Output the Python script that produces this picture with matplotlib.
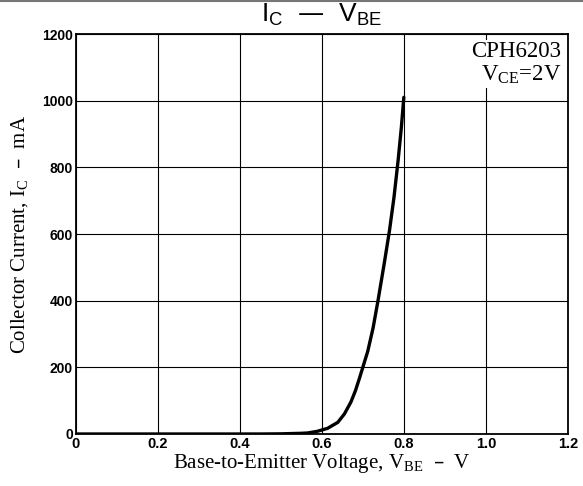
import matplotlib
matplotlib.use("Agg")
import matplotlib.pyplot as plt

# Data
vbe = [0.0, 0.45, 0.50, 0.548, 0.565, 0.589, 0.614, 0.639, 0.655, 0.671,
       0.682, 0.692, 0.700, 0.712, 0.725, 0.737, 0.752, 0.765, 0.776,
       0.786, 0.794, 0.800]
ic = [0, 0, 0.5, 2, 3, 8, 17, 35, 60, 96,
      130, 168, 200, 248, 318, 400, 510, 610, 710,
      820, 920, 1010]

x_ticks = [0, 0.2, 0.4, 0.6, 0.8, 1.0, 1.2]
x_tick_labels = ["0", "0.2", "0.4", "0.6", "0.8", "1.0", "1.2"]
y_ticks = [0, 200, 400, 600, 800, 1000, 1200]
y_tick_labels = ["0", "200", "400", "600", "800", "1000", "1200"]

fig = plt.figure(figsize=(5.83, 4.86), dpi=100)
ax = fig.add_axes([0.130, 0.107, 0.844, 0.823])

ax.plot(vbe, ic, color="black", lw=2.4, solid_capstyle="round",
        solid_joinstyle="round", zorder=3)

ax.set_xlim(0, 1.2)
ax.set_ylim(0, 1200)
ax.set_xticks(x_ticks)
ax.set_yticks(y_ticks)
ax.set_xticklabels(x_tick_labels, fontfamily="Liberation Sans", fontweight="bold", fontsize=10.5)
ax.set_yticklabels(y_tick_labels, fontfamily="Liberation Sans", fontweight="bold", fontsize=10)
ax.tick_params(axis="both", length=0, pad=2)
ax.grid(True, color="black", lw=0.8)
for s in ax.spines.values():
    s.set_linewidth(1.3)

ax.set_xlabel(r"Base-to-Emitter Voltage, V$_{\mathregular{BE}}$  –  V",
              fontfamily="Liberation Serif", fontsize=15, labelpad=1)
ax.set_ylabel(r"Collector Current, I$_{\mathregular{C}}$  –  mA",
              fontfamily="Liberation Serif", fontsize=15, labelpad=8)

fig.text(0.552, 0.942, r"I$_{\mathregular{C}}$  —  V$_{\mathregular{BE}}$",
         ha="center", va="bottom", fontfamily="Liberation Sans", fontsize=19)

ax.text(0.987, 0.982, "CPH6203\n" + r"V$_{\mathregular{CE}}$=2V", transform=ax.transAxes,
        ha="right", va="top", fontfamily="Liberation Serif", fontsize=16.5,
        linespacing=1.05,
        bbox=dict(facecolor="white", edgecolor="none", pad=1.5), zorder=4)

fig.add_artist(plt.Line2D([0, 1], [0.997, 0.997], color="#777777", lw=1.5,
                          transform=fig.transFigure))

fig.savefig("out.png", dpi=100)
